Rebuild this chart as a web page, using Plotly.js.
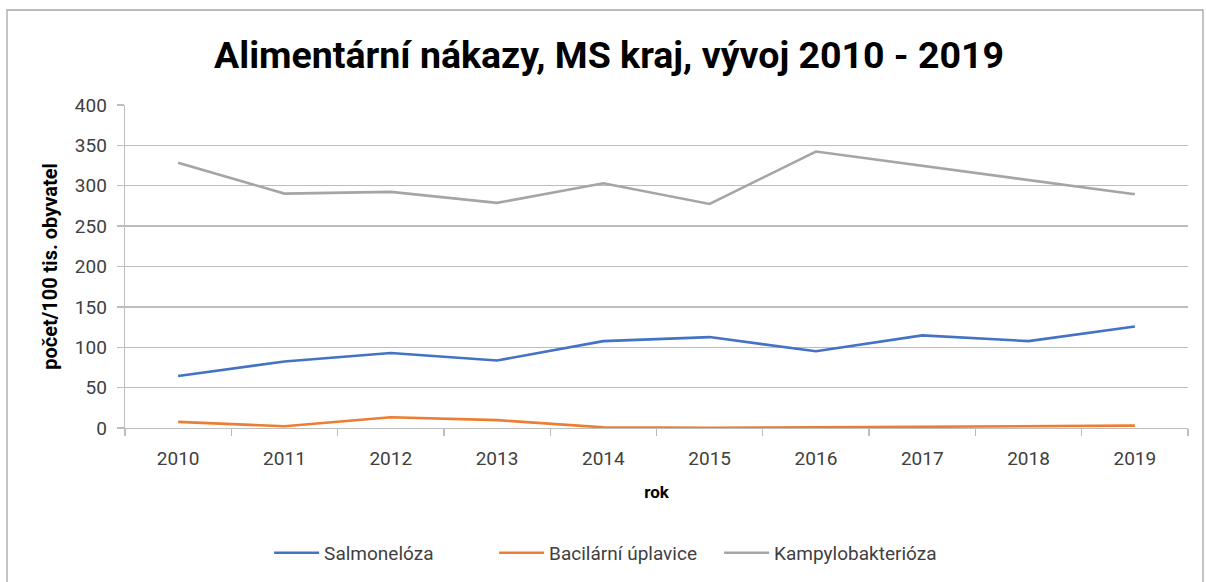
<!DOCTYPE html>
<html>
<head>
<meta charset="utf-8">
<script src="https://cdn.plot.ly/plotly-3.0.1.min.js"></script>
<style>html,body{margin:0;padding:0;background:#fff;}#chart{width:1206px;height:582px;}</style>
</head>
<body>
<div id="chart"></div>
<script>
const years = ['2010','2011','2012','2013','2014','2015','2016','2017','2018','2019'];
const salmoneloza = [64.3, 82.4, 92.9, 83.6, 107.6, 112.6, 95.0, 114.7, 107.6, 125.6];
const bacilarni = [7.6, 2.1, 13.4, 9.7, 0.8, 0.3, 0.8, 1.3, 1.7, 2.9];
const kampylo = [328.4, 290.3, 292.4, 278.8, 303.0, 277.5, 342.4, 325.0, 307.0, 289.4];
const seriesNames = ['Salmonelóza', 'Bacilární úplavice', 'Kampylobakterióza'];
const seriesColors = ['#4472C4', '#ED7D31', '#A5A5A5'];
const yTicks = [0, 50, 100, 150, 200, 250, 300, 350, 400];

const FONT = 'Roboto, "Open Sans", sans-serif';
const grid = '#bdbdbd';

const traces = [salmoneloza, bacilarni, kampylo].map((vals, i) => ({
  type: 'scatter', mode: 'lines', x: years, y: vals, name: seriesNames[i],
  line: {color: seriesColors[i], width: 2.6}, hoverinfo: 'skip'
}));

const layout = {
  width: 1206, height: 582,
  margin: {l: 125, r: 18, t: 105, b: 154, pad: 0},
  paper_bgcolor: '#ffffff', plot_bgcolor: '#ffffff',
  font: {family: FONT, color: '#595959'},
  title: {text: 'Alimentární nákazy, MS kraj, vývoj 2010 - 2019',
    font: {family: FONT, size: 37.5, weight: 700, color: '#000000'},
    x: 0.505, xref: 'container', xanchor: 'center', y: 0.905, yref: 'container', yanchor: 'middle'},
  xaxis: {type: 'category', range: [-0.5, 9.5], tickson: 'boundaries',
    ticks: 'outside', ticklen: 7, tickcolor: grid, tickwidth: 1.3,
    showline: true, linecolor: grid, linewidth: 1.3, showgrid: false, zeroline: false,
    tickfont: {family: FONT, size: 19, color: '#404040'}, ticklabelstandoff: 13,
    title: {text: 'rok', font: {family: FONT, size: 17, weight: 700, color: '#000000'}, standoff: 17}},
  yaxis: {range: [0, 400], tickvals: yTicks, ticktext: yTicks.map(String),
    ticks: 'outside', ticklen: 7, tickcolor: grid, tickwidth: 1.3,
    showline: true, linecolor: grid, linewidth: 1.3, showgrid: true, gridcolor: grid, gridwidth: 1.3,
    zeroline: false,
    tickfont: {family: FONT, size: 19, color: '#404040'}, ticklabelstandoff: 6,
    title: {text: 'počet/100 tis. obyvatel', font: {family: FONT, size: 20, weight: 700, color: '#000000'}, standoff: 12}},
  legend: {orientation: 'h', xref: 'container', yref: 'container', x: 0.503, xanchor: 'center',
    y: 0.05, yanchor: 'middle', font: {family: FONT, size: 19, color: '#404040'},
    itemwidth: 45, entrywidth: 165, entrywidthmode: 'pixels', tracegroupgap: 0, bgcolor: 'rgba(0,0,0,0)'},
  showlegend: true,
  shapes: [{type: 'rect', xref: 'paper', yref: 'paper',
    x0: (7 - 125) / 1063, x1: (1203 - 125) / 1063, y0: (428 - 590) / 323, y1: (428 - 10) / 323,
    line: {color: '#a6a6a6', width: 1.3}, fillcolor: 'rgba(0,0,0,0)', layer: 'below'}]
};

Plotly.newPlot('chart', traces, layout, {staticPlot: true, displayModeBar: false});
</script>
</body>
</html>
